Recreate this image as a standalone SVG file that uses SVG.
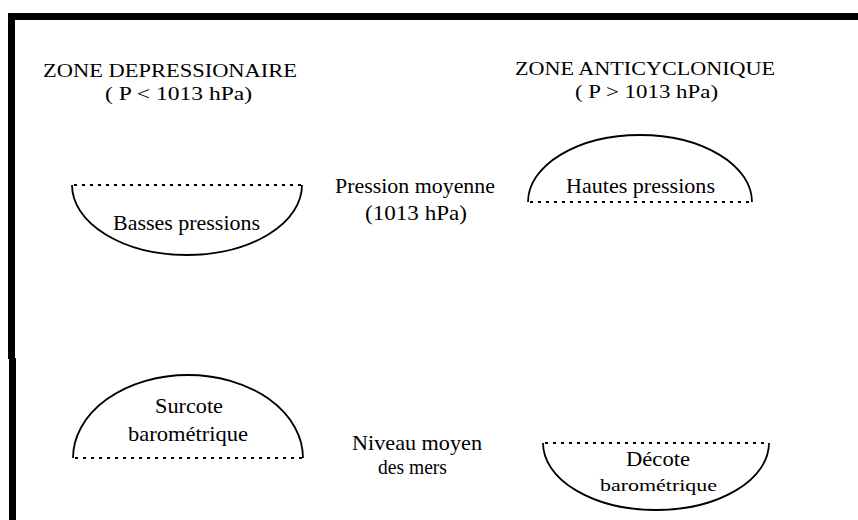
<svg xmlns="http://www.w3.org/2000/svg" width="858" height="520" viewBox="0 0 858 520">
<style>
text{font-family:"Liberation Serif","Times New Roman",serif;fill:#000;text-anchor:start}
.t{font-size:19px}
.b{font-size:21px}
.s{font-size:17px}
.arc{fill:none;stroke:#000;stroke-width:1.8}
.dot{fill:none;stroke:#000;stroke-width:1.8;stroke-dasharray:3 5}
</style>
<rect width="858" height="520" fill="#fff"/>
<g id="frame">
<rect x="8" y="13" width="850" height="7" fill="#000"/>
<rect x="8" y="13" width="7" height="346" fill="#000"/>
<rect x="9" y="358" width="7" height="162" fill="#000"/>
</g>
<g id="zone-depressionaire">
<text class="t" x="43" y="77" textLength="254" lengthAdjust="spacingAndGlyphs">ZONE DEPRESSIONAIRE</text>
<text class="t" x="105" y="100" textLength="147" lengthAdjust="spacingAndGlyphs">( P &lt; 1013 hPa)</text>
</g>
<g id="zone-anticyclonique">
<text class="t" x="515" y="75" textLength="260" lengthAdjust="spacingAndGlyphs">ZONE ANTICYCLONIQUE</text>
<text class="t" x="575" y="98" textLength="143" lengthAdjust="spacingAndGlyphs">( P &gt; 1013 hPa)</text>
</g>
<g id="basses-pressions">
<path class="arc" d="M72,185 A115,70 0 0 0 302,185"/>
<line class="dot" x1="74" y1="185" x2="302" y2="185"/>
<text class="b" x="113" y="230" textLength="147" lengthAdjust="spacingAndGlyphs">Basses pressions</text>
</g>
<g id="pression-moyenne">
<text class="b" x="335" y="193" textLength="160" lengthAdjust="spacingAndGlyphs">Pression moyenne</text>
<text class="b" x="365" y="220" textLength="102" lengthAdjust="spacingAndGlyphs">(1013 hPa)</text>
</g>
<g id="hautes-pressions">
<path class="arc" d="M528,202 A112,67 0 0 1 752,202"/>
<line class="dot" x1="530" y1="202" x2="752" y2="202"/>
<text class="b" x="566" y="193" textLength="149" lengthAdjust="spacingAndGlyphs">Hautes pressions</text>
</g>
<g id="surcote">
<path class="arc" d="M73,458 A115,83 0 0 1 303,458"/>
<line class="dot" x1="75" y1="458" x2="303" y2="458"/>
<text class="b" x="155" y="413" textLength="68" lengthAdjust="spacingAndGlyphs">Surcote</text>
<text class="b" x="128" y="441" textLength="120" lengthAdjust="spacingAndGlyphs">barométrique</text>
</g>
<g id="niveau-moyen">
<text class="b" x="352" y="450" textLength="130" lengthAdjust="spacingAndGlyphs">Niveau moyen</text>
<text class="b" x="378" y="474" textLength="69" lengthAdjust="spacingAndGlyphs">des mers</text>
</g>
<g id="decote">
<path class="arc" d="M543,443 A113,67 0 0 0 769,443"/>
<line class="dot" x1="545" y1="443" x2="769" y2="443"/>
<text class="b" x="626" y="466" textLength="64" lengthAdjust="spacingAndGlyphs">Décote</text>
<text class="s" x="600" y="491" textLength="117" lengthAdjust="spacingAndGlyphs">barométrique</text>
</g>
<g id="connectors"/>
</svg>
